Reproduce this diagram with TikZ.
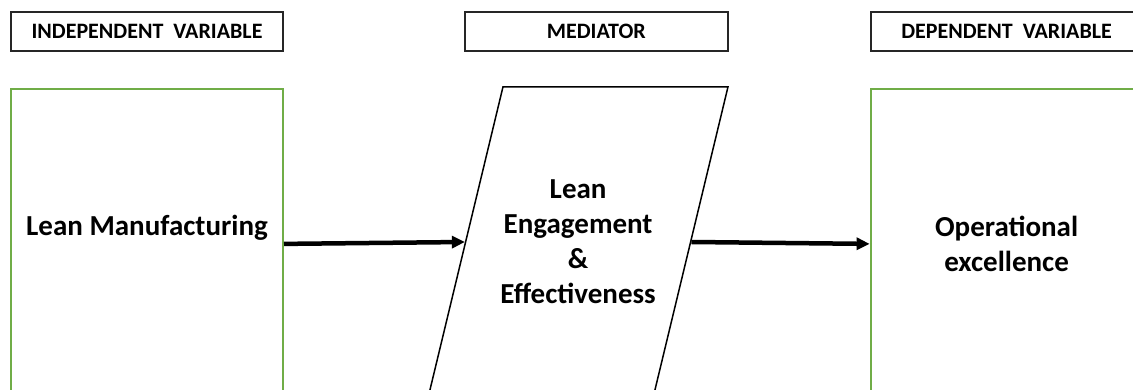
\documentclass[tikz,border=0pt]{standalone}
\usepackage{fontspec}
\setmainfont{Carlito}
\usetikzlibrary{positioning,arrows.meta}
\definecolor{boxgreen}{RGB}{112,173,71}
\definecolor{framegray}{RGB}{38,38,38}
\tikzset{
  headbox/.style={draw=framegray,line width=1.8pt,minimum width=272pt,minimum height=39pt,inner sep=0pt,font=\fontsize{22}{26}\selectfont\bfseries},
  varbox/.style={draw=boxgreen,line width=2pt,minimum width=272pt,minimum height=310pt,inner sep=0pt},
  bigtext/.style={align=center,font=\fontsize{29}{35}\selectfont\bfseries},
  flow/.style={line width=4.5pt,-{Triangle[length=13pt,width=12pt]}}
}

\begin{document}
\begin{tikzpicture}[x=1pt,y=1pt]
\path[use as bounding box,clip] (0,0) rectangle (1133,390);
% header boxes
\node[headbox] (ivlabel) at (147,358.5) {INDEPENDENT~ VARIABLE};
\node[headbox,minimum width=263pt] (medlabel) [right=180pt of ivlabel] {MEDIATOR};
\node[headbox] (dvlabel) [right=141pt of medlabel] {DEPENDENT~ VARIABLE};
% variable boxes
\node[varbox] (iv) [below=36pt of ivlabel] {};
\node[draw,line width=1.5pt,xslant=0.241,minimum width=225pt,minimum height=310pt] (med) at (578.1,148) {};
\node[varbox] (dv) [below=36pt of dvlabel] {};
% texts
\node[bigtext] (ivtext) at ([yshift=16pt]iv.center) {Lean Manufacturing};
\node[bigtext] (medtext) at (med) {Lean\\Engagement\\\&\\Effectiveness};
\node[bigtext] (dvtext) at (dv) {Operational\\excellence};
% the arrows
\draw[flow] (iv.east) -- (med.west);
\draw[flow] (med.east) -- (dv.west);
\end{tikzpicture}
\end{document}
